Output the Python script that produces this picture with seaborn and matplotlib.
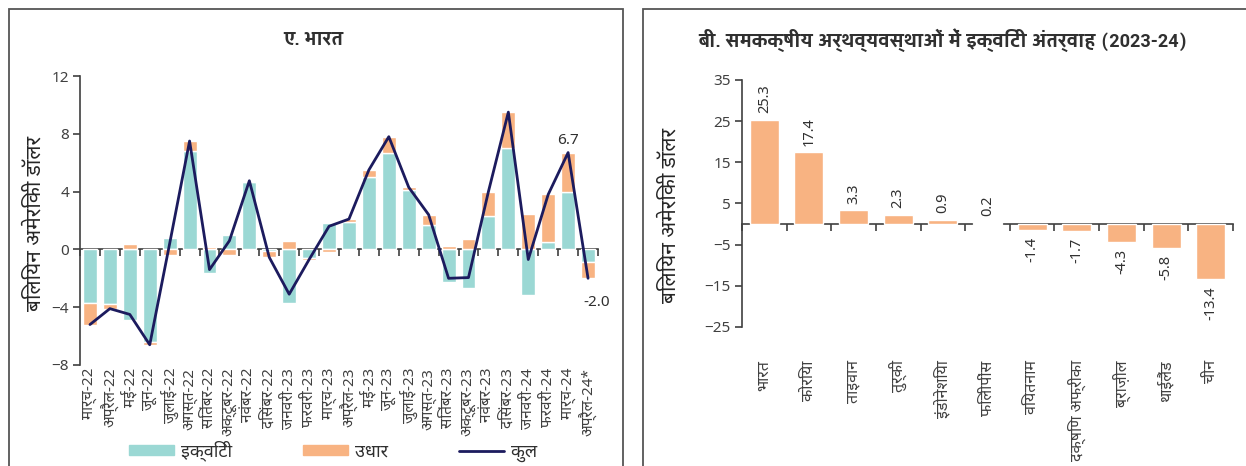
import matplotlib
matplotlib.use("Agg")
import matplotlib.pyplot as plt
import numpy as np
import seaborn as sns
from matplotlib import font_manager as fm
from matplotlib.patches import Patch, Rectangle
from matplotlib.lines import Line2D

# ---------------- data ----------------
months = ["मार्च-22", "अप्रैल-22", "मई-22", "जून-22", "जुलाई-22", "अगस्त-22",
          "सितंबर-22", "अक्टूबर-22", "नवंबर-22", "दिसंबर-22", "जनवरी-23", "फरवरी-23",
          "मार्च-23", "अप्रैल-23", "मई-23", "जून-23", "जुलाई-23", "अगस्त-23",
          "सितंबर-23", "अक्टूबर-23", "नवंबर-23", "दिसंबर-23", "जनवरी-24", "फरवरी-24",
          "मार्च-24", "अप्रैल-24*"]
equity = [-3.7, -3.8, -4.9, -6.4, 0.8, 6.8, -1.6, 1.0, 4.65, -0.1, -3.7, -0.6,
          1.8, 1.9, 5.0, 6.7, 4.1, 1.7, -2.25, -2.65, 2.3, 7.0, -3.15, 0.5, 4.0, -0.9]
debt = [-1.5, -0.3, 0.4, -0.2, -0.4, 0.7, 0.2, -0.4, 0.1, -0.45, 0.55, -0.1,
        -0.2, 0.2, 0.5, 1.1, 0.2, 0.7, 0.25, 0.75, 1.7, 2.5, 2.45, 3.3, 2.7, -1.1]
total = [-5.2, -4.1, -4.5, -6.6, 0.4, 7.5, -1.4, 0.6, 4.75, -0.55, -3.1, -0.7,
         1.6, 2.1, 5.5, 7.8, 4.3, 2.4, -2.0, -1.95, 4.0, 9.5, -0.7, 3.8, 6.7, -2.0]

countries = ["भारत", "कोरिया", "ताइवान", "तुर्की", "इंडोनेशिया", "फिलीपींस",
             "वियतनाम", "दक्षिण अफ्रीका", "ब्राज़ील", "थाईलैंड", "चीन"]
inflows = [25.3, 17.4, 3.3, 2.3, 0.9, 0.2, -1.4, -1.7, -4.3, -5.8, -13.4]

# ---------------- fonts / style ----------------
available = {f.name for f in fm.fontManager.ttflist}


def pick(*names):
    return [f for f in names if f in available]


deva = pick("Noto Sans Devanagari", "Hind", "Mukta")
bold_title = pick("Yantramanav", "Khand", "Hind") + deva

sns.set_style("white")
plt.rcParams["font.family"] = ["Noto Sans"] + deva + ["DejaVu Sans"]
plt.rcParams["axes.edgecolor"] = "#404040"
plt.rcParams["xtick.color"] = "#404040"
plt.rcParams["ytick.color"] = "#404040"
plt.rcParams["text.color"] = "#303030"

TEAL = "#9BD8D4"
ORANGE = "#F8B382"
NAVY = "#1C1B5E"
W, H = 1246, 466

fig = plt.figure(figsize=(W / 100, H / 100), dpi=100)

# panel borders
fig.add_artist(Rectangle((9 / W, -0.1), (623 - 9) / W, 1.1 - 9 / H, transform=fig.transFigure,
                         fill=False, edgecolor="#555555", lw=1.3))
fig.add_artist(Rectangle((643 / W, -0.1), 1.0, 1.1 - 9 / H, transform=fig.transFigure,
                         fill=False, edgecolor="#555555", lw=1.3))


def zero_axis(ax, n, ymin, ymax):
    # x axis drawn at y = 0 with ticks between categories
    sec = ax.secondary_xaxis((0 - ymin) / (ymax - ymin))
    sec.set_xticks(np.arange(n + 1) - 0.5)
    sec.tick_params(axis="x", direction="out", length=5, width=1.2, labelbottom=False,
                    labeltop=False, color="#404040")
    for s in sec.spines.values():
        s.set_linewidth(1.2)
        s.set_color("#404040")
    return sec


# ---------------- A. India ----------------
ax1 = fig.add_axes([80 / W, 1 - 365 / H, (598 - 80) / W, (365 - 76) / H])
n = len(months)
x = np.arange(n)
sns.barplot(x=months, y=equity, color=TEAL, saturation=1, width=0.7, ax=ax1, zorder=2)
debt_bottom = [e if (e < 0) == (d < 0) else 0 for e, d in zip(equity, debt)]
ax1.bar(x, debt, bottom=debt_bottom, width=0.7, color=ORANGE, zorder=2)
sns.lineplot(x=x, y=total, color=NAVY, lw=2, ax=ax1, zorder=4)

ax1.set_ylim(-8, 12)
ax1.set_xlim(-0.5, n - 0.5)
ax1.set_yticks([-8, -4, 0, 4, 8, 12])
ax1.tick_params(axis="y", direction="out", length=5, width=1.2, labelsize=11, pad=3, left=True)
ax1.tick_params(axis="x", length=0, labelsize=11, pad=2)
ax1.set_xticks(x)
ax1.set_xticklabels(months, rotation=90, va="top", ha="center")
for s in ["top", "right", "bottom"]:
    ax1.spines[s].set_visible(False)
ax1.spines["left"].set_linewidth(1.2)
zero_axis(ax1, n, -8, 12)
ax1.set_xlabel("")
ax1.set_ylabel("बिलियन अमेरिकी डॉलर", fontsize=15)
ax1.yaxis.set_label_coords(-0.067, 0.49)
fig.text(313 / W, 1 - 40 / H, "ए. भारत", ha="center", va="center", fontsize=14.5,
         fontweight="semibold", family=bold_title + ["DejaVu Sans"])

ax1.annotate(f"{total[-2]:.1f}", (x[-2], total[-2]), xytext=(0, 3), textcoords="offset points",
             ha="center", va="bottom", fontsize=11)
ax1.annotate(f"{total[-1]:.1f}", (x[-1], total[-1]), xytext=(6, -12), textcoords="offset points",
             ha="center", va="top", fontsize=11)

fig.legend(handles=[Patch(color=TEAL, label="इक्विटी"), Patch(color=ORANGE, label="उधार"),
                    Line2D([], [], color=NAVY, lw=2, label="कुल")],
           loc="center", bbox_to_anchor=(333 / W, 1 - 451 / H), ncol=3, frameon=False,
           fontsize=13, handlelength=2.5, handleheight=0.45, columnspacing=3.9, handletextpad=0.4)

# ---------------- B. peer economies ----------------
ax2 = fig.add_axes([742 / W, 1 - 327 / H, (1233 - 742) / W, (327 - 80) / H])
m = len(countries)
sns.barplot(x=countries, y=inflows, color=ORANGE, saturation=1, width=0.65, ax=ax2, zorder=2)
ax2.bar_label(ax2.containers[0], labels=[f"{v:.1f}" for v in inflows], rotation=90,
              padding=5, fontsize=10.5)
ax2.set_ylim(-25, 35)
ax2.set_xlim(-0.5, m - 0.5)
ax2.set_yticks([-25, -15, -5, 5, 15, 25, 35])
ax2.tick_params(axis="y", direction="out", length=5, width=1.2, labelsize=11, pad=3, left=True)
ax2.tick_params(axis="x", length=0, labelsize=11.5, pad=24)
ax2.set_xticks(np.arange(m))
ax2.set_xticklabels(countries, rotation=90, va="top", ha="center")
for s in ["top", "right", "bottom"]:
    ax2.spines[s].set_visible(False)
ax2.spines["left"].set_linewidth(1.2)
zero_axis(ax2, m, -25, 35)
ax2.set_xlabel("")
ax2.set_ylabel("बिलियन अमेरिकी डॉलर", fontsize=15)
ax2.yaxis.set_label_coords(-0.125, 0.45)
fig.text(943 / W, 1 - 40 / H, "बी. समकक्षीय अर्थव्यवस्थाओं में इक्विटी अंतर्वाह (2023-24)",
         ha="center", va="center", fontsize=14.5, fontweight="bold",
         family=bold_title + ["DejaVu Sans"])

fig.savefig("out.png", dpi=100)
